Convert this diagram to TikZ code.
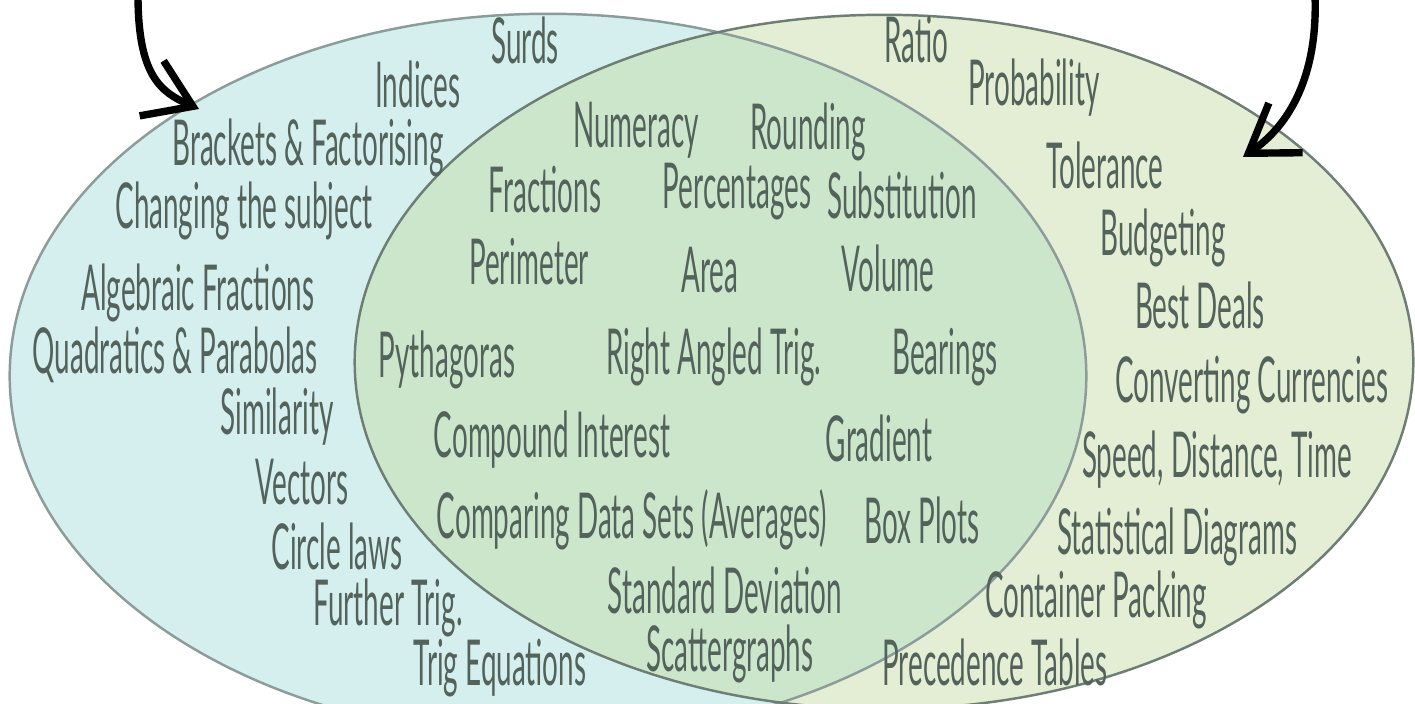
\documentclass[tikz,border=0pt]{standalone}
\usepackage{fontspec}
\setmainfont{Lato}[FakeStretch=0.44]
\usetikzlibrary{arrows.meta}
\definecolor{algebra}{HTML}{D5EEEE}
\definecolor{applied}{HTML}{E4EED4}
\definecolor{common}{HTML}{CCE6CC}
\definecolor{algebrarim}{HTML}{8C9C9A}
\definecolor{appliedrim}{HTML}{6E7E74}
\definecolor{topicink}{HTML}{53635B}

\begin{document}
\begin{tikzpicture}[x=0.01cm,y=-0.01cm,
                    topic/.style={text=topicink,font=\fontsize{18}{21}\selectfont,inner sep=0pt},
                    pointer/.style={line width=2.1pt,line cap=round,-{Straight Barb[length=4.5mm,width=6mm,line width=2.1pt]}}]
    \useasboundingbox (0,0) rectangle (1415,704);
    \fill[algebra] (548,376) ellipse [x radius=5.38cm,y radius=3.62cm];
    \fill[applied] (884,362) ellipse [x radius=5.29cm,y radius=3.47cm];
    \begin{scope}
        \clip (548,376) ellipse [x radius=5.38cm,y radius=3.62cm];
        \fill[common] (884,362) ellipse [x radius=5.29cm,y radius=3.47cm];
    \end{scope}
    \draw[algebrarim,line width=0.7pt] (548,376) ellipse [x radius=5.38cm,y radius=3.62cm];
    \draw[appliedrim,line width=0.7pt] (884,362) ellipse [x radius=5.29cm,y radius=3.47cm];
    % left set only
    \node[topic] (surds) at (525,40) {Surds};
    \node[topic] (indices) at (418,84) {Indices};
    \node[topic] (brackets) at (308,148) {Brackets \& Factorising};
    \node[topic] (subject) at (244,211) {Changing the subject};
    \node[topic] (algfrac) at (198,293) {Algebraic Fractions};
    \node[topic] (quadratics) at (175,355) {Quadratics \& Parabolas};
    \node[topic] (similarity) at (277,417) {Similarity};
    \node[topic] (vectors) at (302,482) {Vectors};
    \node[topic] (circlelaws) at (337,546) {Circle laws};
    \node[topic] (furthertrig) at (388,608) {Further Trig.};
    \node[topic] (trigeq) at (500,668) {Trig Equations};
    % both sets
    \node[topic] (numeracy) at (636,130) {Numeracy};
    \node[topic] (rounding) at (808,132) {Rounding};
    \node[topic] (fractions) at (545,190) {Fractions};
    \node[topic] (percentages) at (737,192) {Percentages};
    \node[topic] (substitution) at (902,195) {Substitution};
    \node[topic] (perimeter) at (529,262) {Perimeter};
    \node[topic] (area) at (710,270) {Area};
    \node[topic] (volume) at (888,268) {Volume};
    \node[topic] (pythagoras) at (447,360) {Pythagoras};
    \node[topic] (rightangled) at (714,357) {Right Angled Trig.};
    \node[topic] (bearings) at (945,357) {Bearings};
    \node[topic] (compound) at (552,440) {Compound Interest};
    \node[topic] (gradient) at (879,438) {Gradient};
    \node[topic] (datasets) at (632,520) {Comparing Data Sets (Averages)};
    \node[topic] (boxplots) at (922,520) {Box Plots};
    \node[topic] (stddev) at (725,590) {Standard Deviation};
    \node[topic] (scatter) at (730,654) {Scattergraphs};
    % right set only
    \node[topic] (ratio) at (916,40) {Ratio};
    \node[topic] (probability) at (1034,88) {Probability};
    \node[topic] (tolerance) at (1105,165) {Tolerance};
    \node[topic] (budgeting) at (1163,238) {Budgeting};
    \node[topic] (bestdeals) at (1200,305) {Best Deals};
    \node[topic] (currencies) at (1252,385) {Converting Currencies};
    \node[topic] (speed) at (1217,460) {Speed, Distance, Time};
    \node[topic] (statistical) at (1177,537) {Statistical Diagrams};
    \node[topic] (container) at (1096,600) {Container Packing};
    \node[topic] (precedence) at (995,662) {Precedence Tables};
    % arrows coming in from above
    \coordinate (lefttail) at (138,-5);
    \coordinate (lefthead) at (199,109);
    \coordinate (righttail) at (1315,-5);
    \coordinate (righthead) at (1243,157);
    \draw[pointer] (lefttail) .. controls (138,75) and (160,92) .. (lefthead);
    \draw[pointer] (righttail) .. controls (1318,75) and (1290,125) .. (righthead);
\end{tikzpicture}
\end{document}
